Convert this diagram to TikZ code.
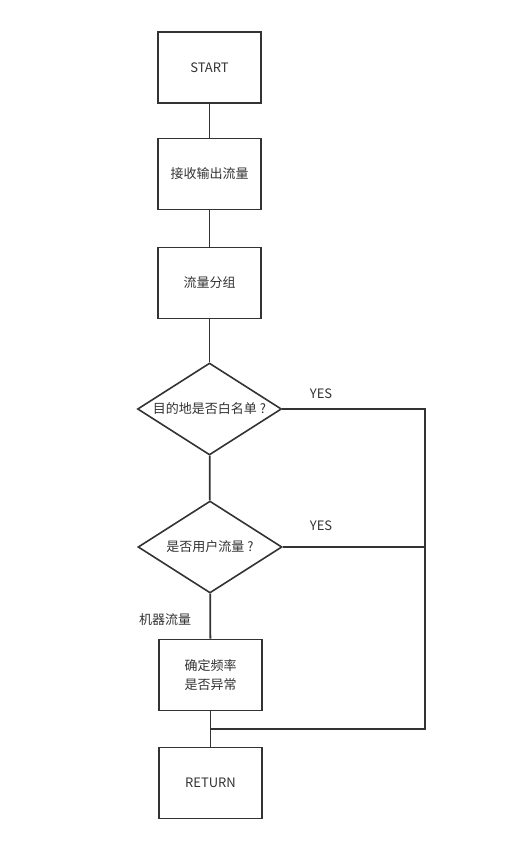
\documentclass[tikz,border=0pt]{standalone}
\usepackage{fontspec}
\setmainfont{Noto Sans CJK SC}
\usetikzlibrary{shapes.geometric}

\begin{document}
\begin{tikzpicture}[x=1pt,y=-1pt]
\tikzstyle{every node}=[text=black!80,font=\fontsize{13}{19}\selectfont]
\tikzstyle{box}=[draw=black!80,line width=1.6pt,minimum width=103pt,minimum height=71pt,align=center]
\tikzstyle{decide}=[draw=black!80,line width=1.6pt,diamond,aspect=1.56,inner sep=0pt,minimum width=144pt,minimum height=92pt]
\tikzstyle{line}=[draw=black!80,line width=1.8pt]

\useasboundingbox (0,0) rectangle (518,845);

\node[box] (start) at (209.5,67.5) {START};
\node[box] (recv) at (209.5,174) {接收输出流量};
\node[box] (group) at (209.5,283) {流量分组};
\node[decide] (white) at (209.5,409) {目的地是否白名单 ?};
\node[decide] (user) at (210,547) {是否用户流量 ?};
\node[box] (check) at (210.5,675) {确定频率\\是否异常};
\node[box] (ret) at (210.5,783) {RETURN};

\node (yes1) at (321,394) {YES};
\node (yes2) at (321,526) {YES};
\node (robot) at (165,620) {机器流量};

\coordinate (join) at (210.5,729);
\coordinate (rt) at (425,729);

\draw[line] (start) -- (recv);
\draw[line] (recv) -- (group);
\draw[line] (group) -- (white);
\draw[line] (white) -- (user);
\draw[line] (user) -- (check);
\draw[line] (check) -- (ret);
\draw[line] (white.east) -| (rt) -- (join);
\draw[line] (user.east) -- (user.east -| rt);
\end{tikzpicture}
\end{document}
